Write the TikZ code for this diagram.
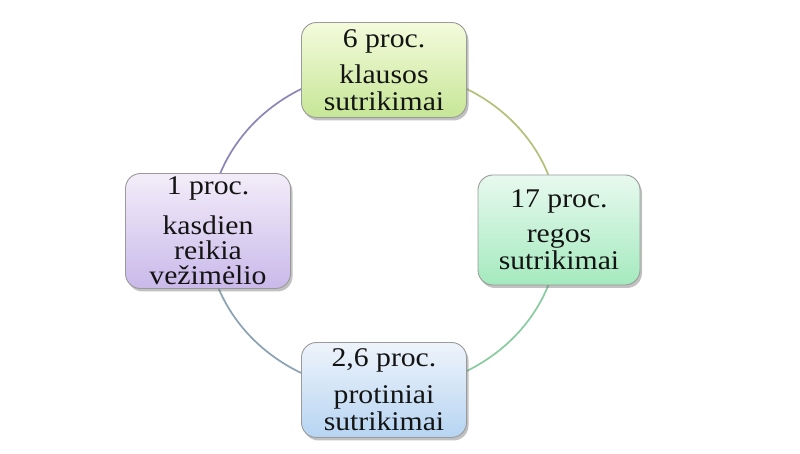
\documentclass[tikz,border=0pt]{standalone}
\usepackage{fontspec}
\setmainfont{Liberation Serif}[FakeStretch=1.1]
\usetikzlibrary{shadows,backgrounds}
\definecolor{txt}{HTML}{141414}
\definecolor{boxline}{HTML}{9A9A9A}
\definecolor{arcTL}{HTML}{8C86B8}
\definecolor{arcTR}{HTML}{B5C07A}
\definecolor{arcBR}{HTML}{88CCA0}
\definecolor{arcBL}{HTML}{8AA2B4}
\definecolor{gTop}{HTML}{F4FBDC}\definecolor{gBot}{HTML}{C6E696}
\definecolor{rTop}{HTML}{E8F9EF}\definecolor{rBot}{HTML}{A4EABE}
\definecolor{bTop}{HTML}{EEF4FB}\definecolor{bBot}{HTML}{B6D4F2}
\definecolor{pTop}{HTML}{F3EDF9}\definecolor{pBot}{HTML}{C9B9EA}
\tikzset{
  cyclebox/.style={draw=boxline, line width=0.9pt, rounded corners=15pt,
    align=center, text=txt, minimum width=165pt, inner sep=2pt,
    font=\fontsize{27}{27}\selectfont,
    drop shadow={opacity=0.4, shadow xshift=2pt, shadow yshift=-3pt, fill=black!60}},
  cyclearc/.style={line width=1.7pt}
}
\begin{document}
\begin{tikzpicture}[x=1pt,y=1pt]
\useasboundingbox (0,0) rectangle (800,454);
\coordinate (C) at (384,224);
\node[cyclebox, minimum height=95pt, top color=gTop, bottom color=gBot] (top) at (384,384)
  {6 proc.\\[9pt]klausos\\sutrikimai};
\node[cyclebox, minimum width=162pt, minimum height=110pt, top color=rTop, bottom color=rBot] (right) at (559,224)
  {17 proc.\\[8pt]regos\\sutrikimai};
\node[cyclebox, minimum height=95pt, top color=bTop, bottom color=bBot] (bottom) at (384,64)
  {2,6 proc.\\[10pt]protiniai\\sutrikimai};
\node[cyclebox, minimum height=115pt, top color=pTop, bottom color=pBot,
  font=\fontsize{27}{25}\selectfont] (left) at (208,223)
  {1 proc.\\[15pt]kasdien\\reikia\\vežimėlio};
\begin{scope}[on background layer]
  \fill[white] (0,0) rectangle (800,454);
  \draw[cyclearc, arcTL] (top.center) arc[start angle=90, end angle=180, x radius=175pt, y radius=160pt];
  \draw[cyclearc, arcBL] (left.center) ++(-1,0) arc[start angle=180, end angle=270, x radius=175pt, y radius=160pt];
  \draw[cyclearc, arcBR] (bottom.center) arc[start angle=270, end angle=360, x radius=175pt, y radius=160pt];
  \draw[cyclearc, arcTR] (right.center) arc[start angle=0, end angle=90, x radius=175pt, y radius=160pt];
\end{scope}
\end{tikzpicture}
\end{document}
